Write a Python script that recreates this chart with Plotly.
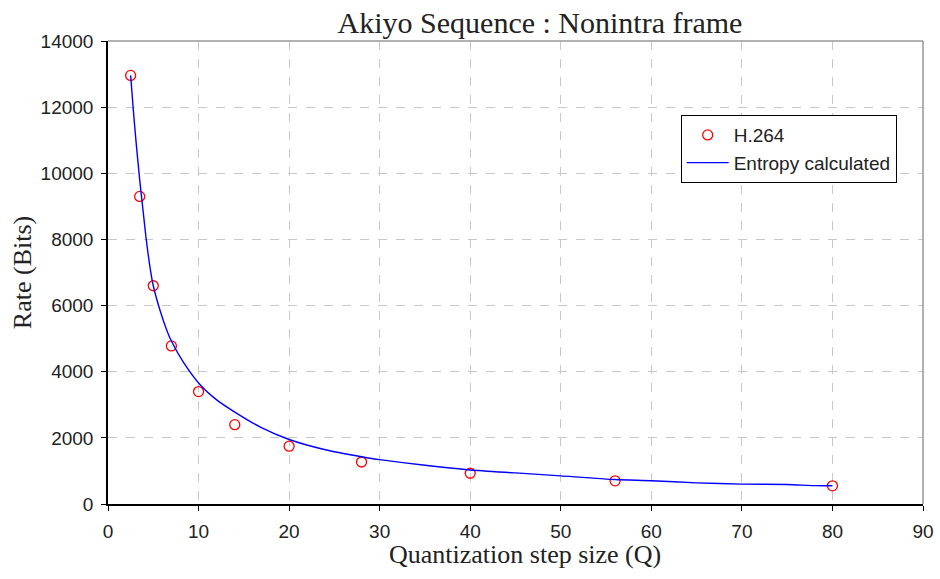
import plotly.graph_objects as go

# H.264 measured rate (bits) vs quantization step size
q_h264 = [2.5, 3.5, 5, 7, 10, 14, 20, 28, 40, 56, 80]
rate_h264 = [12960, 9300, 6600, 4780, 3400, 2400, 1750, 1270, 930, 700, 550]

# Entropy calculated curve
q_entropy = [2.5, 2.8, 3.1, 3.5, 3.9, 4.2, 4.7, 5.0, 5.75, 6.5, 7.0, 8.3, 10.2,
             12, 14, 17, 20, 24, 28, 30, 35, 40, 45, 50, 56, 60, 65, 70, 75, 78, 80]
rate_entropy = [12960, 11900, 10950, 9800, 8800, 8050, 7050, 6600, 5850, 5250,
                4930, 4300, 3600, 3150, 2780, 2300, 1950, 1640, 1430, 1340, 1170,
                1030, 940, 850, 740, 705, 640, 600, 590, 555, 550]

x_ticks = [0, 10, 20, 30, 40, 50, 60, 70, 80, 90]
y_ticks = [0, 2000, 4000, 6000, 8000, 10000, 12000, 14000]
y_tick_labels = ["0", "2000", "4000", "6000", "8000", "10000", "12000", "14000"]

title_text = "Akiyo Sequence : Nonintra frame"
x_title = "Quantization step size (Q)"
y_title = "Rate (Bits)"

serif = "Liberation Serif, Times New Roman, serif"
sans = "Liberation Sans, Arial, sans-serif"

W, H = 940, 579

fig = go.Figure()
fig.add_trace(go.Scatter(
    x=q_h264, y=rate_h264, mode="markers", name="H.264",
    marker=dict(symbol="circle-open", color="red", size=10, line=dict(width=1.3, color="red")),
))
fig.add_trace(go.Scatter(
    x=q_entropy, y=rate_entropy, mode="lines", name="Entropy calculated",
    line=dict(color="#0000ff", width=1.4, shape="spline", smoothing=0.6),
))

axis_common = dict(
    showgrid=True, gridcolor="#c8c8c8", griddash="dash", gridwidth=1,
    zeroline=False, showline=True, linecolor="black", linewidth=1.5,
    ticks="outside", ticklen=5, tickcolor="black", tickwidth=1,
    tickfont=dict(family=sans, size=19, color="#222"),
    automargin=False,
)

fig.update_xaxes(range=[0, 90], tickvals=x_ticks, ticklabelstandoff=4, **axis_common)
fig.update_yaxes(range=[0, 14000], tickvals=y_ticks, ticktext=y_tick_labels, ticklabelstandoff=4,
                 title=dict(text=y_title, font=dict(family=serif, size=26, color="#222"), standoff=2),
                 **axis_common)

fig.add_annotation(text=x_title, xref="paper", yref="paper", x=0.5117, y=-0.110,
                   xanchor="center", yanchor="middle", showarrow=False,
                   font=dict(family=serif, size=26, color="#222"))

fig.update_layout(
    width=W, height=H,
    margin=dict(l=108, r=17, t=41, b=75),
    paper_bgcolor="white", plot_bgcolor="white",
    title=dict(text=title_text, font=dict(family=serif, size=30, color="#222"),
               x=540 / W, xanchor="center", xref="container",
               y=1 - 22 / H, yanchor="middle", automargin=False),
    showlegend=True,
    legend=dict(x=0.7027, y=0.840, xanchor="left", yanchor="top",
                bordercolor="black", borderwidth=1, bgcolor="white",
                font=dict(family=sans, size=19, color="#222"),
                itemwidth=42, tracegroupgap=0),
    shapes=[
        dict(type="line", xref="paper", yref="paper", x0=0, x1=1, y0=1, y1=1,
             line=dict(color="#999999", width=1.5), layer="above"),
        dict(type="line", xref="paper", yref="paper", x0=1, x1=1, y0=0, y1=1,
             line=dict(color="#999999", width=1.5), layer="above"),
    ],
)

fig.write_html("out.html", config={"displayModeBar": False},
               post_script="document.body.style.margin='0';")
